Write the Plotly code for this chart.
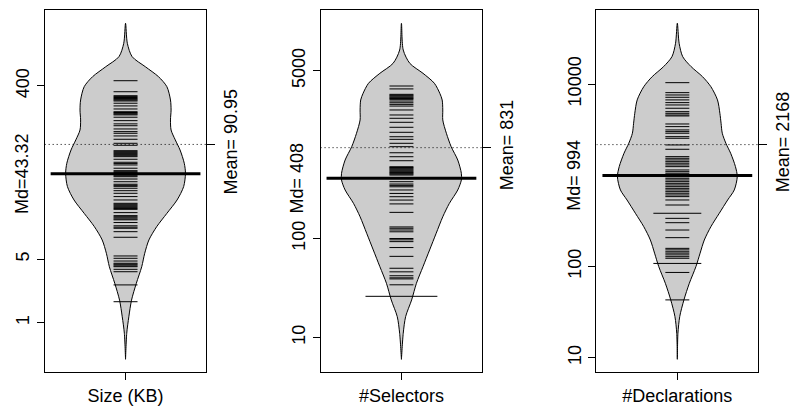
import numpy as np
import plotly.graph_objects as go
from collections import Counter

W, H = 793, 407

# ---------------- data ----------------
names = ["Size (KB)", "#Selectors", "#Declarations"]
medians = [43.32, 408, 994]
means = [90.95, 831, 2168]
md_labels = ["Md=43.32", "Md= 408", "Md= 994"]
mean_labels = ["Mean= 90.95", "Mean= 831", "Mean= 2168"]
ytick_vals = [[1, 5, 400], [10, 100, 5000], [10, 100, 10000]]

size_kb = [456, 345, 312, 305, 298, 291, 285, 279, 273, 258, 241, 223, 208, 204, 200, 196, 192,
           181, 166, 153, 146, 134.5, 125.7, 120.6, 112.7, 103.6, 93.6, 89.0, 77.6, 75.7, 73.8,
           72.0, 70.2, 68.4, 66.7, 62.5, 57.9, 56.0, 54.1, 49.8, 46.8, 45.6, 44.5, 43.4, 42.3,
           41.2, 40.2, 37.9, 35.4, 33.2, 32.3, 31.5, 30.0, 28.2, 26.4, 24.3, 22.3, 20.5, 20.0,
           19.5, 19.0, 18.5, 18.0, 17.6, 16.2, 15.0, 14.6, 14.2, 13.8, 13.5, 12.6, 11.6, 11.2,
           10.9, 10.0, 8.68, 5.41, 5.10, 4.76, 4.50, 4.40, 4.31, 4.20, 4.12, 3.86, 3.63, 2.60, 1.70]
selectors = [3497, 3268, 2880, 2820, 2770, 2710, 2660, 2610, 2563, 2464, 2367, 2280, 2192, 2000,
             1780, 1648, 1501, 1336, 1189, 1072, 1009, 920, 850, 738, 673, 613, 533, 523, 514, 504,
             494, 484, 474, 465, 457, 448, 439, 407, 376, 356, 345, 334, 310, 286, 265, 245, 224,
             184, 131, 127, 122, 117, 100, 97, 93, 81, 66, 50, 46, 42, 40, 39, 34, 26, 26, 26]
declarations = [10360, 8050, 7590, 7160, 6700, 6260, 5900, 5430, 4980, 4780, 4580, 4470, 3650,
                3415, 3140, 3010, 2890, 2650, 2545, 2150, 1927, 1600, 1536, 1472, 1410, 1355,
                1298, 1243, 1143, 1095, 1052, 966, 927, 888, 851, 816, 783, 750, 719, 690, 661,
                635, 608, 583, 536, 472, 383, 383, 337, 302, 251, 207, 158, 152, 145, 140, 134,
                128, 123, 108, 108, 86, 43]
bean_values = [size_kb, selectors, declarations]

# density outline (levels in data units, relative density)
size_levels = [1950, 1175, 838, 650, 505, 392, 280, 217, 169, 131, 102, 79, 56.5, 43.8, 31.3,
               22.3, 15.9, 11.35, 8.11, 5.79, 4.12, 2.71, 1.77, 1.16, 0.765, 0.396]
size_dens = [0, .03, .11, .33, .55, .69, .75, .76, .75, .76, .83, .91, .98, 1.0, .97, .86, .69,
             .52, .39, .32, .27, .18, .10, .055, .02, 0]
sel_levels = [15070, 8090, 5930, 4700, 3724, 2951, 2525, 2000, 1585, 1162, 850, 623, 457, 391,
              310, 227, 166, 113, 76.6, 51.9, 35.2, 23.9, 16.2, 11.0, 5.98]
sel_dens = [0, .03, .14, .36, .55, .64, .68, .69, .69, .75, .83, .94, 1.0, 1.0, .94, .80, .69,
            .58, .47, .36, .25, .17, .07, .03, 0]
dec_levels = [46450, 27990, 19950, 15520, 12050, 9360, 6700, 4790, 3720, 2890, 2245, 1743, 1243,
              966, 690, 536, 383, 273, 195, 140, 99.6, 65.4, 43, 28.2, 18.5, 9.6]
dec_dens = [0, .03, .09, .23, .42, .56, .67, .71, .73, .75, .81, .89, .97, 1.0, .95, .84, .70,
            .56, .45, .38, .31, .20, .11, .04, .01, 0]
outline_levels = [size_levels, sel_levels, dec_levels]
outline_dens = [size_dens, sel_dens, dec_dens]

# ---------------- layout geometry ----------------
box_left = [45, 323, 601]
box_w = 163
y_top, y_bot = 10, 372
yranges = [[-0.542, 3.436], [0.649, 4.313], [0.843, 4.812]]
FONT = dict(family="Liberation Sans, Arial, sans-serif", size=18, color="black")

fig = go.Figure()
layout = dict(width=W, height=H, margin=dict(l=0, r=0, t=0, b=0),
              paper_bgcolor="white", plot_bgcolor="white", showlegend=False, font=FONT)
annotations = []

for i in range(3):
    sx = "" if i == 0 else str(i + 1)
    xa, ya = "x" + sx, "y" + sx
    ov = str(i + 4)
    dens = np.array(outline_dens[i])
    lv = list(outline_levels[i])
    xs = list(1 - 0.4 * dens) + list(1 + 0.4 * dens)[::-1]
    ys = lv + lv[::-1]
    fig.add_trace(go.Scatter(x=xs, y=ys, mode="lines", fill="toself", fillcolor="#cccccc",
                             line=dict(color="black", width=1, shape="spline", smoothing=0.8),
                             xaxis=xa, yaxis=ya, hoverinfo="skip"))
    # bean lines
    bx, by = [], []
    for v, c in Counter(bean_values[i]).items():
        bx += [1 - 0.08 * c, 1 + 0.08 * c, None]
        by += [v, v, None]
    fig.add_trace(go.Scatter(x=bx, y=by, mode="lines", line=dict(color="black", width=1),
                             xaxis=xa, yaxis=ya, hoverinfo="skip"))
    # median line
    fig.add_trace(go.Scatter(x=[0.5, 1.5], y=[medians[i]] * 2, mode="lines",
                             line=dict(color="black", width=3), xaxis=xa, yaxis=ya))
    # mean line (dotted)
    fig.add_trace(go.Scatter(x=[0.46, 1.54], y=[means[i]] * 2, mode="lines",
                             line=dict(color="black", width=1, dash="1px,3px"),
                             xaxis=xa, yaxis=ya))
    # invisible trace for overlay axis
    fig.add_trace(go.Scatter(x=[1], y=[means[i]], mode="markers", marker=dict(opacity=0),
                             xaxis=xa, yaxis="y" + ov, hoverinfo="skip"))

    dom_x = [box_left[i] / W, (box_left[i] + box_w) / W]
    dom_y = [1 - y_bot / H, 1 - y_top / H]
    layout["xaxis" + sx] = dict(domain=dom_x, range=[0.46, 1.54], anchor=ya,
                                tickvals=[1], ticktext=[names[i]], ticks="outside", ticklen=7,
                                tickcolor="black", showline=True, mirror=True, linecolor="black",
                                linewidth=1, showgrid=False, zeroline=False, tickfont=FONT)
    layout["yaxis" + sx] = dict(domain=dom_y, type="log", range=yranges[i], anchor=xa,
                                tickvals=ytick_vals[i], ticktext=[str(t) for t in ytick_vals[i]],
                                ticks="outside", ticklen=7, tickcolor="black", tickangle=-90,
                                showline=True, mirror=True, linecolor="black", linewidth=1,
                                showgrid=False, zeroline=False, tickfont=FONT)
    layout["yaxis" + ov] = dict(overlaying=ya, side="right", anchor=xa, type="log",
                                range=yranges[i], tickvals=[means[i]], ticktext=[mean_labels[i]],
                                ticks="outside", ticklen=8, tickcolor="black", tickangle=-90,
                                showline=False, showgrid=False, zeroline=False, tickfont=FONT)
    annotations.append(dict(xref="paper", x=(box_left[i] - 23.5) / W, yref=ya,
                            y=float(np.log10(medians[i])), text=md_labels[i], textangle=-90,
                            showarrow=False, xanchor="center", yanchor="middle", font=FONT))

layout["annotations"] = annotations
fig.update_layout(**layout)
fig.write_html("out.html")
